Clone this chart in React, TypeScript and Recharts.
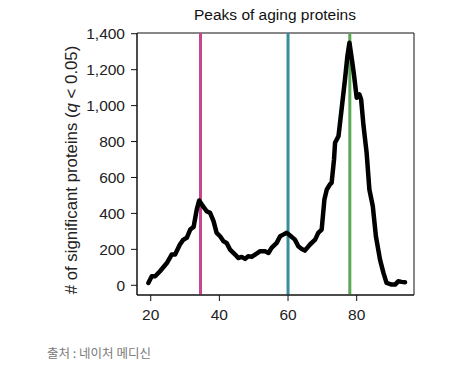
import { LineChart, Line, XAxis, YAxis, ReferenceLine, ReferenceArea } from "recharts";

// age (years) vs number of significant proteins
const ages = [
  19.3, 20.3, 21.3, 22.7, 24.7, 26.1, 27.1, 28.5, 29.5, 30.5, 31.5, 32.5, 33.4, 34.1, 34.9,
  36.3, 37.3, 38.3, 39.2, 40.2, 41.2, 42.1, 43.1, 44.6, 45.5, 46.5, 47.5, 48.4, 49.4, 50.4,
  51.8, 53.3, 54.3, 55.2, 56.7, 57.7, 58.6, 59.6, 60.6, 62.0, 63.0, 64.0, 64.9, 66.4, 67.9,
  68.8, 69.8, 70.6, 71.3, 72.2, 72.7, 73.4, 73.7, 74.7, 75.6, 76.6, 77.3, 77.9, 78.6, 79.2,
  80.0, 80.8, 81.3, 82.0, 82.9, 83.7, 84.7, 85.6, 86.8, 87.8, 88.7, 90.2, 91.2, 92.1, 93.1, 94.1,
];
const counts = [
  13, 50, 50, 78, 124, 171, 171, 227, 254, 264, 310, 325, 421, 472, 449,
  412, 403, 357, 292, 273, 245, 236, 199, 171, 152, 158, 147, 162, 158, 171,
  189, 189, 180, 208, 236, 273, 282, 292, 277, 254, 217, 202, 193, 227, 254,
  292, 310, 477, 533, 561, 570, 700, 793, 830, 979, 1146, 1276, 1350, 1257, 1174,
  1044, 1062, 1034, 886, 737, 533, 440, 273, 143, 69, 13, 4, 4, 22, 19, 17,
];

const peakAges = [34.5, 60, 78];
const peakColors = ["#c4478f", "#3b8c9b", "#5ca757"];

const xTicks = [20, 40, 60, 80];
const yTicks = [0, 200, 400, 600, 800, 1000, 1200, 1400];
const X_DOMAIN: [number, number] = [16, 96.7];
const Y_DOMAIN: [number, number] = [-54, 1404];

const data = ages.map((age, i) => ({ age, count: counts[i] }));

const FONT = "'Liberation Sans', Arial, Helvetica, sans-serif";

function YLabel({ viewBox }: { viewBox?: { x: number; y: number; width: number; height: number } }) {
  if (!viewBox) return null;
  const cx = viewBox.x + 71;
  const cy = viewBox.y + viewBox.height / 2 + 6;
  return (
    <text
      x={cx}
      y={cy}
      transform={`rotate(-90 ${cx} ${cy})`}
      textAnchor="middle"
      dominantBaseline="central"
      fontSize={16.8}
      fontFamily={FONT}
      fill="#222"
    >
      # of significant proteins (<tspan fontStyle="italic">q</tspan> &lt; 0.05)
    </text>
  );
}

export default function App() {
  return (
    <div style={{ position: "absolute", left: 0, top: 0, width: 453, height: 369, background: "#fff", fontFamily: FONT }}>
      <div
        style={{
          position: "absolute",
          left: 175,
          width: 200,
          top: 6,
          textAlign: "center",
          fontSize: 15.5,
          color: "#111",
        }}
      >
        Peaks of aging proteins
      </div>
      <LineChart
        width={453}
        height={369}
        data={data}
        margin={{ top: 33, right: 39, left: 0, bottom: 44 }}
      >
        <ReferenceArea
          x1={X_DOMAIN[0]}
          x2={X_DOMAIN[1]}
          y1={Y_DOMAIN[0]}
          y2={Y_DOMAIN[1]}
          fill="none"
          stroke="#111"
          strokeWidth={1}
          ifOverflow="visible"
        />
        <XAxis
          dataKey="age"
          type="number"
          domain={X_DOMAIN}
          ticks={xTicks}
          height={30}
          tickSize={6}
          tickMargin={8}
          axisLine={{ stroke: "#111" }}
          tickLine={{ stroke: "#111" }}
          tick={{ fill: "#222", fontSize: 15.5, fontFamily: FONT }}
        />
        <YAxis
          type="number"
          domain={Y_DOMAIN}
          ticks={yTicks}
          width={137}
          tickSize={6}
          tickMargin={6}
          axisLine={{ stroke: "#111" }}
          tickLine={{ stroke: "#111" }}
          tick={{ fill: "#222", fontSize: 15.5, fontFamily: FONT }}
          tickFormatter={(v: number) => v.toLocaleString("en-US")}
          label={<YLabel />}
        />
        {peakAges.map((a, i) => (
          <ReferenceLine key={a} x={a} stroke={peakColors[i]} strokeWidth={3} />
        ))}
        <Line
          type="linear"
          dataKey="count"
          stroke="#000"
          strokeWidth={4.5}
          strokeLinejoin="round"
          strokeLinecap="round"
          dot={false}
          isAnimationActive={false}
        />
      </LineChart>
      <div
        style={{
          position: "absolute",
          left: 47,
          top: 343,
          fontSize: 12.5,
          color: "#7a7a7a",
          fontFamily: "'Noto Sans CJK KR', sans-serif",
        }}
      >
        출처 : 네이처 메디신
      </div>
    </div>
  );
}
